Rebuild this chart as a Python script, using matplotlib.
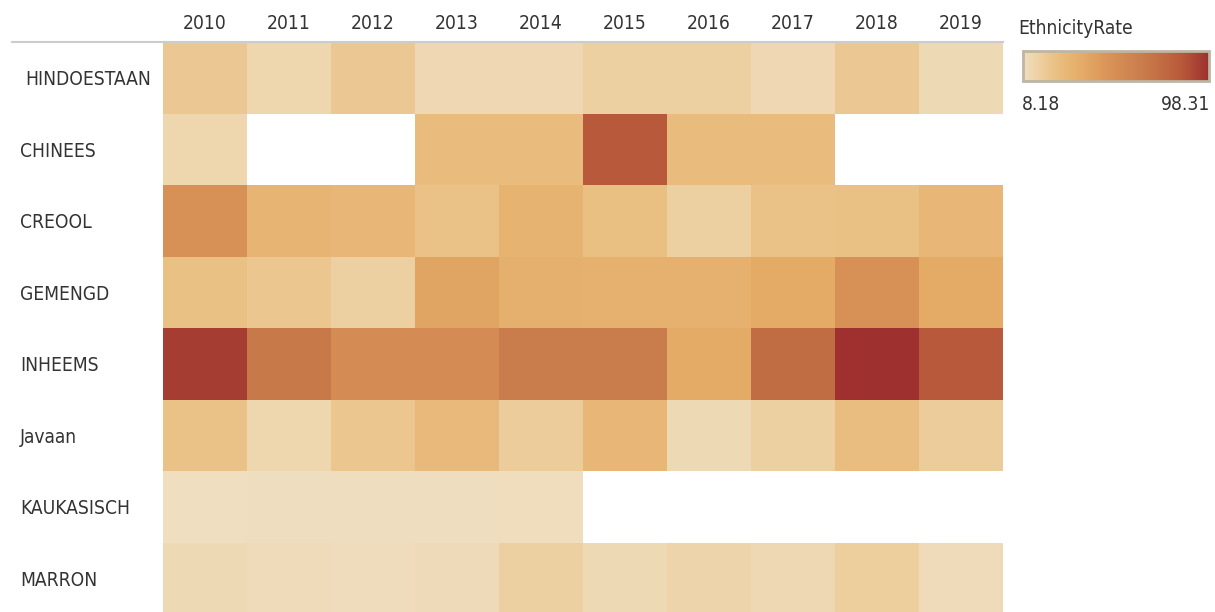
import numpy as np
import matplotlib
matplotlib.use("Agg")
import matplotlib.pyplot as plt
from matplotlib.colors import LinearSegmentedColormap, Normalize
from matplotlib.cm import ScalarMappable

plt.rcParams["font.family"] = ["DejaVu Sans"]
plt.rcParams["font.stretch"] = "condensed"

nan = np.nan
years = ["2010", "2011", "2012", "2013", "2014", "2015", "2016", "2017", "2018", "2019"]
ethnicities = ["HINDOESTAAN", "CHINEES", "CREOOL", "GEMENGD", "INHEEMS", "Javaan", "KAUKASISCH", "MARRON"]

hindoestaan = [20, 12.5, 20, 12, 12, 16, 16, 12, 20, 11]
chinees = [13, nan, nan, 27, 27, 85, 27, 27, nan, nan]
creool = [52, 31, 29, 23, 32, 25, 16, 23, 24, 29]
gemengd = [24, 21, 16, 40, 34, 33, 33, 37, 52, 37]
inheems = [94, 68, 55, 55, 66, 66, 37, 75, 98.31, 85]
javaan = [23, 13, 21, 28, 18, 29, 11, 16, 26, 18]
kaukasisch = [8.18, 8.8, 8.8, 8.8, 8.9, nan, nan, nan, nan, nan]
marron = [11, 10, 9.5, 10.5, 16, 11, 14, 11.5, 17, 10]

vmin, vmax = 8.18, 98.31

# Tableau-like orange/brown sequential palette
cmap = LinearSegmentedColormap.from_list("ethnicity", [
    (0.00, "#EFDEC0"),
    (0.09, "#EDCFA0"),
    (0.165, "#EAC287"),
    (0.23, "#E8B777"),
    (0.32, "#E4AB67"),
    (0.45, "#DA9458"),
    (0.62, "#CB7F4E"),
    (0.75, "#C06C42"),
    (0.85, "#B85A3A"),
    (1.00, "#9E3030"),
])
cmap.set_bad("white")

FS = 13.8


def main():
    grid = np.array([hindoestaan, chinees, creool, gemengd, inheems, javaan, kaukasisch, marron])
    grid = np.ma.masked_invalid(grid)
    norm = Normalize(vmin=vmin, vmax=vmax)

    W, H = 1215, 612
    fig = plt.figure(figsize=(W / 100, H / 100), dpi=100)

    # heatmap axes (rows run a little past the bottom edge, as in the original)
    left, right, top = 163, 1003, 42
    row_h = 71.5
    bottom = top + row_h * len(ethnicities)
    ax = fig.add_axes([left / W, 1 - bottom / H, (right - left) / W, (bottom - top) / H])
    ax.pcolormesh(grid, cmap=cmap, norm=norm, edgecolors="none")
    ax.set_xlim(0, len(years))
    ax.set_ylim(len(ethnicities), 0)
    ax.set_xticks([])
    ax.set_yticks([])
    for s in ax.spines.values():
        s.set_visible(False)

    for i, y in enumerate(years):
        fig.text((left + (i + 0.5) * (right - left) / len(years)) / W, 1 - 23.5 / H, y,
                 ha="center", va="center", fontsize=FS, color="#333333")
    for j, name in enumerate(ethnicities):
        x0 = 25 if j == 0 else 20
        fig.text(x0 / W, 1 - (top + (j + 0.5) * row_h + 2) / H, name,
                 ha="left", va="center", fontsize=FS, color="#333333")

    # header rule
    fig.add_artist(plt.Line2D([12 / W, right / W], [1 - 42 / H, 1 - 42 / H],
                              color="#CCCCCC", lw=1.5))

    # legend
    fig.text(1018 / W, 1 - 28 / H, "EthnicityRate", ha="left", va="center",
             fontsize=FS, color="#333333")
    cax = fig.add_axes([1023 / W, 1 - 81 / H, 186 / W, 30 / H])
    cb = fig.colorbar(ScalarMappable(norm=norm, cmap=cmap), cax=cax, orientation="horizontal")
    cb.set_ticks([])
    cb.outline.set_edgecolor("#BDB6A3")
    cb.outline.set_linewidth(2)
    fig.text(1022 / W, 1 - 104 / H, f"{vmin:.2f}", ha="left", va="center", fontsize=FS, color="#333333")
    fig.text(1210 / W, 1 - 104 / H, f"{vmax:.2f}", ha="right", va="center", fontsize=FS, color="#333333")

    fig.savefig("out.png", dpi=100)
    plt.close(fig)


if __name__ == "__main__":
    main()
